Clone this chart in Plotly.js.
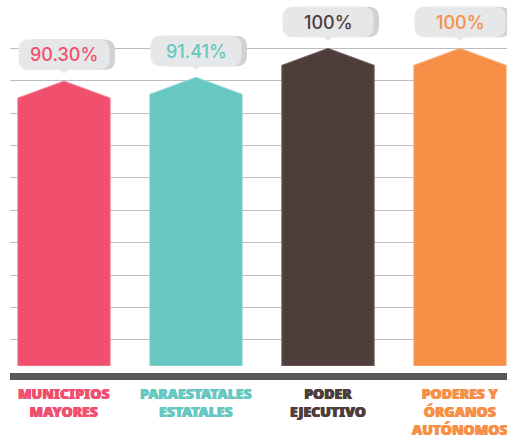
<!DOCTYPE html>
<html>
<head>
<meta charset="utf-8">
<script src="https://cdn.plot.ly/plotly-3.0.1.min.js"></script>
<style>html,body{margin:0;padding:0;background:#fff;}#chart{width:507px;height:438px;}</style>
</head>
<body>
<div id="chart"></div>
<script>
// ---- data ----
const categories = ['MUNICIPIOS<br>MAYORES', 'PARAESTATALES<br>ESTATALES', 'PODER<br>EJECUTIVO', 'PODERES Y<br>ÓRGANOS<br>AUTÓNOMOS'];
const values = [90.30, 91.41, 100, 100];
const valueLabels = ['90.30%', '91.41%', '100%', '100%'];
const barColors = ['#f0506e', '#67c7c1', '#4f3d3b', '#f78f47'];
const edgeColors = ['#f5889c', '#9adbd6', '#7a6a68', '#fab385'];
const gridTicks = [100, 90.39, 80.78, 71.17, 61.56, 51.95, 42.34, 32.73, 23.12, 13.51];

// ---- layout constants ----
const W = 507, H = 438;
const M = {l: 10, r: 0, t: 0, b: 72};
const yRange = [5.76, 114.33];
const xRange = [-0.409, 3.356];
const halfW = 0.35;
const shoulderPx = 17;
const plotH = H - M.t - M.b;
const shoulder = shoulderPx * (yRange[1] - yRange[0]) / plotH;
const base = yRange[0];

const traces = values.map((v, i) => ({
  type: 'scatter', mode: 'lines',
  x: [i - halfW, i - halfW, i, i + halfW, i + halfW, i - halfW],
  y: [base, v - shoulder, v, v - shoulder, base, base],
  fill: 'toself', fillcolor: barColors[i],
  line: {color: edgeColors[i], width: 1},
  hoverinfo: 'skip', showlegend: false
}));

function rrect(L, R, B, T, r) {
  return `M${L + r},${B} L${R - r},${B} Q${R},${B} ${R},${B + r} L${R},${T - r} Q${R},${T} ${R - r},${T} ` +
         `L${L + r},${T} Q${L},${T} ${L},${T - r} L${L},${B + r} Q${L},${B} ${L + r},${B} Z`;
}
const boxB = 11, boxT = 41.5;
const shapes = [];
values.forEach((v, i) => {
  const common = {type: 'path', xref: 'x', yref: 'y', xsizemode: 'pixel', ysizemode: 'pixel',
                  xanchor: i, yanchor: v, line: {width: 0}, layer: 'above'};
  shapes.push(Object.assign({}, common, {path: rrect(-40, 51, boxB, boxT, 11), fillcolor: '#d1d2d4'}));
  shapes.push(Object.assign({}, common, {path: rrect(-45.5, 45.5, boxB, boxT, 11), fillcolor: '#e6e7e8'}));
  shapes.push(Object.assign({}, common, {path: `M-5,${boxB + 0.5} L0,${boxB - 3.5} L5,${boxB + 0.5} Z`, fillcolor: '#e6e7e8'}));
});
// thick baseline band
shapes.push({type: 'rect', xref: 'paper', yref: 'paper', x0: 0, x1: 1,
  y0: -(373 - (H - M.b)) / plotH, y1: -(380 - (H - M.b)) / plotH,
  fillcolor: '#58585a', line: {width: 0}});

const annotations = [];
values.forEach((v, i) => {
  const c = barColors[i];
  annotations.push({x: i, y: v, xref: 'x', yref: 'y', text: valueLabels[i], showarrow: false,
    yshift: (boxB + boxT) / 2, yanchor: 'middle', xanchor: 'center',
    font: {family: 'Inter, "Open Sans", sans-serif', size: 18, color: c, weight: 500}});
  annotations.push({x: i, y: -0.045, xref: 'x', yref: 'paper', text: categories[i], showarrow: false,
    yanchor: 'top', xanchor: 'center', align: 'center',
    font: {family: '"Noto Sans", sans-serif', size: 14, color: c, weight: 900,
           shadow: `0.5px 0 0 ${c}, -0.5px 0 0 ${c}`}});
});

const layout = {
  width: W, height: H, margin: M,
  paper_bgcolor: '#ffffff', plot_bgcolor: '#ffffff',
  xaxis: {range: xRange, showgrid: false, zeroline: false, showticklabels: false, fixedrange: true},
  yaxis: {range: yRange, tickmode: 'array', tickvals: gridTicks, showticklabels: false,
          gridcolor: '#bdbdc0', gridwidth: 1, zeroline: false, fixedrange: true},
  shapes: shapes, annotations: annotations, showlegend: false
};
Plotly.newPlot('chart', traces, layout, {staticPlot: true, displayModeBar: false});
</script>
</body>
</html>
